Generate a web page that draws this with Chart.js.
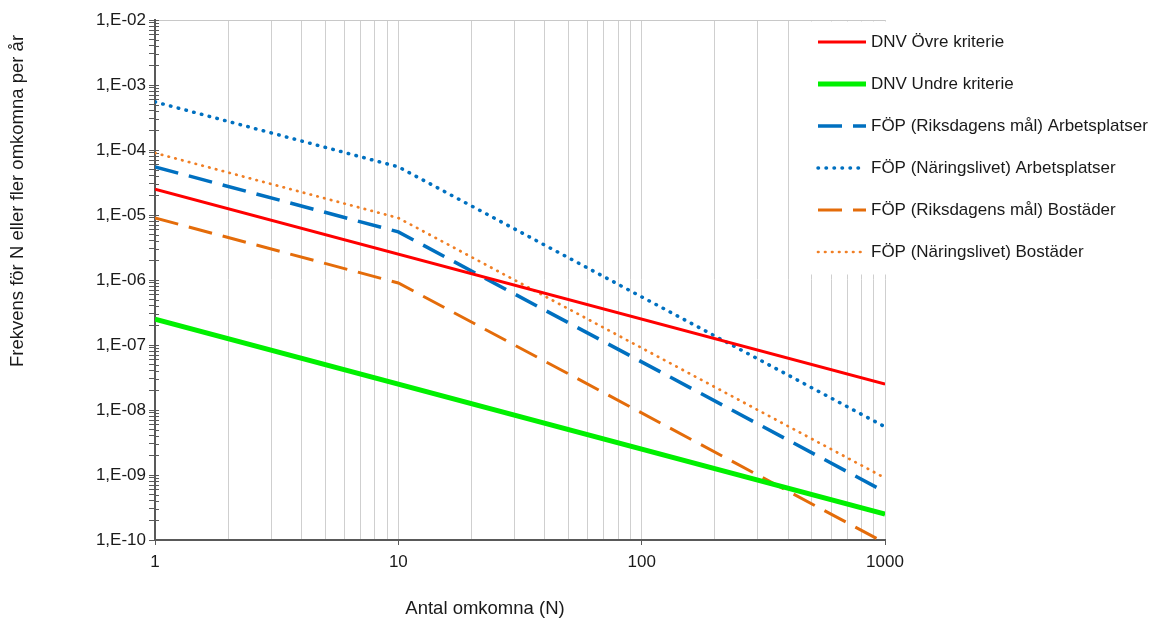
<!DOCTYPE html>
<html>
<head>
<meta charset="utf-8">
<script src="https://cdn.jsdelivr.net/npm/chart.js@4.4.1/dist/chart.umd.min.js"></script>
<style>
  html, body { margin: 0; background: #fff; }
</style>
</head>
<body>
<canvas id="fnChart" width="1158" height="622"></canvas>
<script>
// F/N-kurvor, logaritmiska axlar
const seriesNames = [
  'DNV Övre kriterie',
  'DNV Undre kriterie',
  'FÖP (Riksdagens mål) Arbetsplatser',
  'FÖP (Näringslivet) Arbetsplatser',
  'FÖP (Riksdagens mål) Bostäder',
  'FÖP (Näringslivet) Bostäder'
];
const dnvN = [1, 1000];
const dnvUpper = [2.5e-5, 2.5e-8];
const dnvLower = [2.5e-7, 2.5e-10];
const fopN = [1, 10, 1000];
const riksArbete = [5.5e-5, 5.5e-6, 5.5e-10];
const naringArbete = [5.5e-4, 5.5e-5, 5.5e-9];
const riksBostad = [9e-6, 9e-7, 9e-11];
const naringBostad = [9e-5, 9e-6, 9e-10];

const xMajor = [1, 10, 100, 1000];
const yMajor = [1e-10, 1e-9, 1e-8, 1e-7, 1e-6, 1e-5, 1e-4, 1e-3, 1e-2];
const minorSteps = [1, 2, 3, 4, 5, 6, 7, 8, 9];

const xTitle = 'Antal omkomna (N)';
const yTitle = 'Frekvens för N eller fler omkomna per år';

const FONT = '"Liberation Sans", Arial, sans-serif';

const pts = (xs, ys) => xs.map((x, i) => ({x: x, y: ys[i]}));

// log-ticks 1..9 per dekad, med majors markerade
function logTicks(majors) {
  const last = majors[majors.length - 1];
  const out = [];
  majors.forEach(m => {
    minorSteps.forEach(s => {
      const v = m * s;
      if (v <= last * 1.0001) out.push({value: v, major: s === 1});
    });
  });
  return out;
}

function yLabel(v) {
  const e = Math.round(Math.log10(v));
  return '1,E' + (e < 0 ? '-' : '+') + String(Math.abs(e)).padStart(2, '0');
}

const datasets = [
  {data: pts(dnvN, dnvUpper), borderColor: '#ff0000', borderWidth: 3},
  {data: pts(dnvN, dnvLower), borderColor: '#00f000', borderWidth: 5},
  {data: pts(fopN, riksArbete), borderColor: '#0070c0', borderWidth: 3.5, borderDash: [24, 11]},
  {data: pts(fopN, naringArbete), borderColor: '#0070c0', borderWidth: 3.5, borderDash: [0.5, 7.5], borderCapStyle: 'round'},
  {data: pts(fopN, riksBostad), borderColor: '#e46c0a', borderWidth: 3, borderDash: [24, 11]},
  {data: pts(fopN, naringBostad), borderColor: '#f07f25', borderWidth: 2.7, borderDash: [0.5, 6.5], borderCapStyle: 'round'}
].map((d, i) => Object.assign({label: seriesNames[i], pointRadius: 0, tension: 0, fill: false}, d));

const framePlugin = {
  id: 'frame',
  beforeDatasetsDraw(chart) {
    const {ctx, chartArea} = chart;
    const yScale = chart.scales.y;
    ctx.save();
    ctx.strokeStyle = '#c8c8c8';
    ctx.lineWidth = 1;
    ctx.beginPath();
    ctx.moveTo(chartArea.left, chartArea.top + 0.5);
    ctx.lineTo(chartArea.right, chartArea.top + 0.5);
    ctx.stroke();
    // korta tickmarkeringar innanför y-axeln
    ctx.strokeStyle = '#595959';
    ctx.beginPath();
    yScale.ticks.forEach(t => {
      const py = Math.round(yScale.getPixelForValue(t.value)) + 0.5;
      ctx.moveTo(chartArea.left, py);
      ctx.lineTo(chartArea.left + 4, py);
    });
    ctx.stroke();
    ctx.restore();
  }
};

const legendPlugin = {
  id: 'insideLegend',
  afterDraw(chart) {
    const {ctx, chartArea} = chart;
    ctx.save();
    ctx.fillStyle = '#fff';
    ctx.fillRect(800, chartArea.top + 1.5, chart.width - 800, 253);
    ctx.font = '17px ' + FONT;
    ctx.textBaseline = 'middle';
    ctx.fillStyle = '#1a1a1a';
    chart.data.datasets.forEach((ds, i) => {
      const y = 42 + i * 42;
      ctx.save();
      ctx.strokeStyle = ds.borderColor;
      ctx.lineWidth = ds.borderWidth;
      ctx.lineCap = ds.borderCapStyle || 'butt';
      ctx.setLineDash(ds.borderDash || []);
      ctx.beginPath();
      ctx.moveTo(818, y);
      ctx.lineTo(866, y);
      ctx.stroke();
      ctx.restore();
      ctx.fillText(ds.label, 871, y);
    });
    ctx.restore();
  }
};

const titlePlugin = {
  id: 'axisTitles',
  afterDraw(chart) {
    const {ctx, chartArea} = chart;
    ctx.save();
    ctx.font = '18.5px ' + FONT;
    ctx.fillStyle = '#1a1a1a';
    ctx.textAlign = 'center';
    ctx.textBaseline = 'middle';
    ctx.fillText(xTitle, 485, chartArea.bottom + 69);
    ctx.translate(18, 201);
    ctx.rotate(-Math.PI / 2);
    ctx.fillText(yTitle, 0, 0);
    ctx.restore();
  }
};

new Chart(document.getElementById('fnChart'), {
  type: 'line',
  data: {datasets: datasets},
  options: {
    responsive: false,
    animation: false,
    layout: {padding: {top: 20, right: 273, left: 0, bottom: 0}},
    plugins: {legend: {display: false}, tooltip: {enabled: false}},
    scales: {
      x: {
        type: 'logarithmic',
        min: 1, max: 1000,
        afterBuildTicks: s => { s.ticks = logTicks(xMajor); },
        afterFit: s => { s.height = 82; },
        ticks: {
          autoSkip: false, maxRotation: 0, padding: 7,
          color: '#1a1a1a', font: {family: FONT, size: 17},
          callback: (v, i, t) => t[i].major ? String(v) : ''
        },
        grid: {
          color: '#cfcfcf', lineWidth: 1, drawTicks: true, tickLength: 5,
          tickColor: c => (c.tick && c.tick.major) ? '#595959' : 'rgba(0,0,0,0)'
        },
        border: {color: '#595959', width: 2}
      },
      y: {
        type: 'logarithmic',
        min: 1e-10, max: 1e-2,
        afterBuildTicks: s => { s.ticks = logTicks(yMajor); },
        afterFit: s => { s.width = 155; },
        ticks: {
          autoSkip: false, padding: 3,
          color: '#1a1a1a', font: {family: FONT, size: 17},
          callback: (v, i, t) => t[i].major ? yLabel(v) : ''
        },
        grid: {drawOnChartArea: false, drawTicks: true, tickLength: 6, tickColor: '#595959'},
        border: {color: '#595959', width: 2}
      }
    }
  },
  plugins: [framePlugin, legendPlugin, titlePlugin]
});
</script>
</body>
</html>
